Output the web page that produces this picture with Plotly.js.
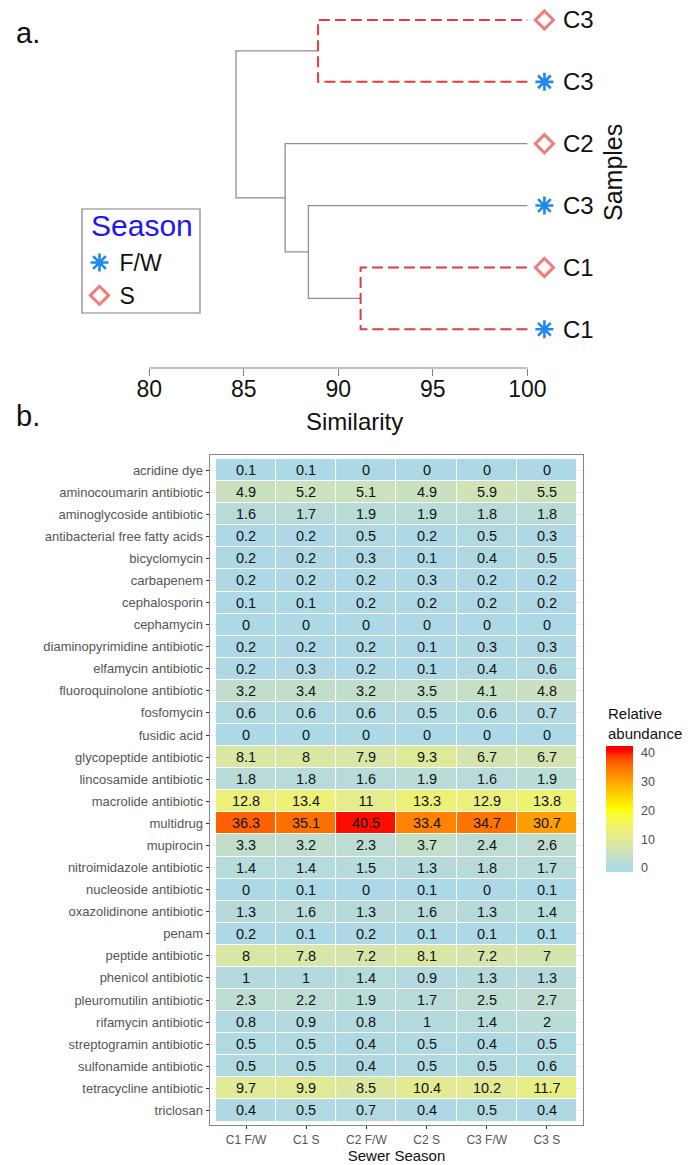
<!DOCTYPE html>
<html>
<head>
<meta charset="utf-8">
<script src="https://cdn.plot.ly/plotly-3.0.1.min.js"></script>
<style>html,body{margin:0;padding:0;background:#fff;}#chart{width:688px;height:1165px;}</style>
</head>
<body>
<div id="chart"></div>
<script>
// ---------- Panel a: dendrogram data ----------
// leaves from bottom (1) to top (6)
const leafLabels  = ['C1', 'C1', 'C3', 'C2', 'C3', 'C3'];
const leafSeasons = ['F/W', 'S', 'F/W', 'S', 'F/W', 'S'];
// hclust-style merges: negative = leaf index, positive = earlier merge
const mergeLeft    = [-1, -3, -4, -5, 4];
const mergeRight   = [-2,  1,  2, -6, 3];
const mergeHeight  = [91.18, 88.42, 87.19, 88.93, 84.59];
const mergeHighlight = [true, false, false, true, false];
const leafSimilarity = 100;
const similarityTicks = [80, 85, 90, 95, 100];

// ---------- Panel b: heatmap data ----------
const resistanceClasses = [
  'acridine dye', 'aminocoumarin antibiotic', 'aminoglycoside antibiotic',
  'antibacterial free fatty acids', 'bicyclomycin', 'carbapenem', 'cephalosporin',
  'cephamycin', 'diaminopyrimidine antibiotic', 'elfamycin antibiotic',
  'fluoroquinolone antibiotic', 'fosfomycin', 'fusidic acid', 'glycopeptide antibiotic',
  'lincosamide antibiotic', 'macrolide antibiotic', 'multidrug', 'mupirocin',
  'nitroimidazole antibiotic', 'nucleoside antibiotic', 'oxazolidinone antibiotic',
  'penam', 'peptide antibiotic', 'phenicol antibiotic', 'pleuromutilin antibiotic',
  'rifamycin antibiotic', 'streptogramin antibiotic', 'sulfonamide antibiotic',
  'tetracycline antibiotic', 'triclosan'
];
const sewerSeasons = ['C1 F/W', 'C1 S', 'C2 F/W', 'C2 S', 'C3 F/W', 'C3 S'];
const c1fw = [0.1,4.9,1.6,0.2,0.2,0.2,0.1,0,0.2,0.2,3.2,0.6,0,8.1,1.8,12.8,36.3,3.3,1.4,0,1.3,0.2,8,1,2.3,0.8,0.5,0.5,9.7,0.4];
const c1s  = [0.1,5.2,1.7,0.2,0.2,0.2,0.1,0,0.2,0.3,3.4,0.6,0,8,1.8,13.4,35.1,3.2,1.4,0.1,1.6,0.1,7.8,1,2.2,0.9,0.5,0.5,9.9,0.5];
const c2fw = [0,5.1,1.9,0.5,0.3,0.2,0.2,0,0.2,0.2,3.2,0.6,0,7.9,1.6,11,40.5,2.3,1.5,0,1.3,0.2,7.2,1.4,1.9,0.8,0.4,0.4,8.5,0.7];
const c2s  = [0,4.9,1.9,0.2,0.1,0.3,0.2,0,0.1,0.1,3.5,0.5,0,9.3,1.9,13.3,33.4,3.7,1.3,0.1,1.6,0.1,8.1,0.9,1.7,1,0.5,0.5,10.4,0.4];
const c3fw = [0,5.9,1.8,0.5,0.4,0.2,0.2,0,0.3,0.4,4.1,0.6,0,6.7,1.6,12.9,34.7,2.4,1.8,0,1.3,0.1,7.2,1.3,2.5,1.4,0.4,0.5,10.2,0.5];
const c3s  = [0,5.5,1.8,0.3,0.5,0.2,0.2,0,0.3,0.6,4.8,0.7,0,6.7,1.9,13.8,30.7,2.6,1.7,0.1,1.4,0.1,7,1.3,2.7,2,0.5,0.6,11.7,0.4];
const colorbarTicks = [0, 10, 20, 30, 40];

// ---------- styling ----------
const W = 688, H = 1165;
const px = v => v / W;           // horizontal pixel -> paper
const py = v => 1 - v / H;       // vertical pixel -> paper
const GRAY = '#8f8f8f', RED = '#e43b3b', BLUE = '#1e88f0', PINK = '#f27c7c';
const FONT = 'Liberation Sans, Arial, sans-serif';
const MARKER_PAD = 0.9;         // leaf symbol drawn just past the leaf tip
const X_VIEW_MAX = 101.724;     // view extends past 100 so the leaf symbols fit

// ---------- build dendrogram segments ----------
const nodeX = {}, nodeY = {};
function child(id) {
  if (id < 0) return {x: leafSimilarity, y: -id};
  return {x: nodeX[id], y: nodeY[id]};
}
const grayX = [], grayY = [], redX = [], redY = [];
mergeHeight.forEach((h, i) => {
  const a = child(mergeLeft[i]), b = child(mergeRight[i]);
  const id = i + 1;
  nodeX[id] = h; nodeY[id] = (a.y + b.y) / 2;
  const X = mergeHighlight[i] ? redX : grayX, Y = mergeHighlight[i] ? redY : grayY;
  X.push(a.x, h, h, b.x, null); Y.push(a.y, a.y, b.y, b.y, null);
});

const leafY = leafLabels.map((_, i) => i + 1);
const fwIdx = leafY.filter((_, i) => leafSeasons[i] === 'F/W');
const sIdx  = leafY.filter((_, i) => leafSeasons[i] === 'S');

const traces = [
  {type: 'scatter', mode: 'lines', x: grayX, y: grayY, xaxis: 'x', yaxis: 'y',
   line: {color: GRAY, width: 1.3}, showlegend: false, hoverinfo: 'skip', cliponaxis: false},
  {type: 'scatter', mode: 'lines', x: redX, y: redY, xaxis: 'x', yaxis: 'y',
   line: {color: RED, width: 2, dash: '11px,5px'}, showlegend: false, hoverinfo: 'skip', cliponaxis: false},
  {type: 'scatter', mode: 'markers', name: 'F/W', x: fwIdx.map(() => leafSimilarity + MARKER_PAD), y: fwIdx,
   xaxis: 'x', yaxis: 'y', cliponaxis: false,
   marker: {symbol: 'asterisk-open', size: 15, color: BLUE, line: {color: BLUE, width: 2.6}}},
  {type: 'scatter', mode: 'markers', name: 'S', x: sIdx.map(() => leafSimilarity + MARKER_PAD), y: sIdx,
   xaxis: 'x', yaxis: 'y', cliponaxis: false,
   marker: {symbol: 'diamond-open', size: 14, color: PINK, line: {color: PINK, width: 3}}}
];

// ---------- Lab-interpolated colour scale (lightblue -> yellow -> red) ----------
function hex2rgb(h){ h=h.replace('#',''); return [0,2,4].map(i=>parseInt(h.substr(i,2),16)); }
function s2l(c){ c/=255; return c<=0.04045 ? c/12.92 : Math.pow((c+0.055)/1.055,2.4); }
function l2s(c){ c = c<=0.0031308 ? 12.92*c : 1.055*Math.pow(c,1/2.4)-0.055; return Math.round(Math.max(0,Math.min(1,c))*255); }
const XN=0.95047, YN=1, ZN=1.08883;
function rgb2lab(rgb){
  const [R,G,B]=rgb.map(s2l);
  const X=(0.4124*R+0.3576*G+0.1805*B)/XN, Y=(0.2126*R+0.7152*G+0.0722*B)/YN, Z=(0.0193*R+0.1192*G+0.9505*B)/ZN;
  const f=t=>t>0.008856?Math.cbrt(t):7.787*t+16/116;
  return [116*f(Y)-16, 500*(f(X)-f(Y)), 200*(f(Y)-f(Z))];
}
function lab2rgb(lab){
  const fy=(lab[0]+16)/116, fx=fy+lab[1]/500, fz=fy-lab[2]/200;
  const fi=t=>t*t*t>0.008856?t*t*t:(t-16/116)/7.787;
  const X=XN*fi(fx), Y=YN*fi(fy), Z=ZN*fi(fz);
  const R=3.2406*X-1.5372*Y-0.4986*Z, G=-0.9689*X+1.8758*Y+0.0415*Z, B=0.0557*X-0.2040*Y+1.0570*Z;
  return [l2s(R),l2s(G),l2s(B)];
}
const gradColors = ['#ADD8E6', '#FFFF00', '#FF0000'].map(c => rgb2lab(hex2rgb(c)));
const allVals = [].concat(c1fw, c1s, c2fw, c2s, c3fw, c3s);
const zMin = Math.min(...allVals), zMax = Math.max(...allVals);
function colorAt(v){
  let t = (Math.max(zMin, Math.min(zMax, v)) - zMin) / (zMax - zMin);
  const seg = Math.min(gradColors.length - 2, Math.floor(t * (gradColors.length - 1)));
  const u = t * (gradColors.length - 1) - seg;
  const a = gradColors[seg], b = gradColors[seg + 1];
  const rgb = lab2rgb(a.map((x, k) => x + (b[k] - x) * u));
  return 'rgb(' + rgb.join(',') + ')';
}
// the guide bar extends slightly past the data limits (as in ggplot's bar)
const barMin = zMin - 1.4, barMax = zMax + 1.93;
const colorscale = [];
for (let i = 0; i <= 60; i++) {
  const t = i / 60;
  colorscale.push([t, colorAt(barMin + t * (barMax - barMin))]);
}

const columns = [c1fw, c1s, c2fw, c2s, c3fw, c3s];
const z = resistanceClasses.map((_, r) => columns.map(col => col[r]));

traces.push({
  type: 'heatmap', x: sewerSeasons, y: resistanceClasses, z: z,
  xaxis: 'x2', yaxis: 'y2', zmin: barMin, zmax: barMax, colorscale: colorscale,
  xgap: 1, ygap: 1, showlegend: false, hoverinfo: 'skip',
  texttemplate: '%{z}', textfont: {family: FONT, size: 14.5, color: '#111111'},
  colorbar: {
    x: px(606), xanchor: 'left', y: py(746), yanchor: 'top',
    len: 126 / H, lenmode: 'fraction', thickness: 27, thicknessmode: 'pixels',
    outlinewidth: 0, xpad: 0, ypad: 0,
    tickvals: colorbarTicks, ticks: 'outside', ticklen: 6, tickcolor: 'rgba(0,0,0,0)',
    tickfont: {family: FONT, size: 12.5, color: '#4d4d4d'}
  }
});

const layout = {
  width: W, height: H, margin: {l: 0, r: 0, t: 0, b: 0},
  paper_bgcolor: '#ffffff', plot_bgcolor: '#ffffff',
  font: {family: FONT, color: '#111111'},
  showlegend: true,
  legend: {
    x: px(79.5), xanchor: 'left', y: py(241), yanchor: 'top',
    borderwidth: 0, bgcolor: 'rgba(0,0,0,0)',
    font: {family: FONT, size: 23, color: '#111111'},
    tracegroupgap: 0, itemsizing: 'trace'
  },
  xaxis: {
    domain: [px(149.2), px(560)], range: [80, X_VIEW_MAX], anchor: 'y',
    tickvals: similarityTicks, ticks: 'outside', ticklen: 7, tickcolor: '#808080', tickwidth: 1,
    showline: false, showgrid: false, zeroline: false,
    ticklabelstandoff: -7,
    tickfont: {family: FONT, size: 23, color: '#111111'},
    title: {text: 'Similarity', font: {family: FONT, size: 24, color: '#111111'}, standoff: 12},
    automargin: false, fixedrange: true
  },
  yaxis: {
    domain: [py(368), 1], range: [0.374, 6.323], anchor: 'x', side: 'right',
    tickvals: leafY, ticktext: leafLabels, ticks: '', showline: false, showgrid: false, zeroline: false,
    ticklabelstandoff: 2,
    tickfont: {family: FONT, size: 24, color: '#111111'},
    automargin: false, fixedrange: true
  },
  xaxis2: {
    domain: [px(210), px(583)], anchor: 'y2', type: 'category', range: [-0.6, 5.6],
    ticks: 'outside', ticklen: 3, tickcolor: '#333333', tickwidth: 1,
    showline: true, mirror: true, linecolor: '#858585', linewidth: 1.4,
    showgrid: true, gridcolor: '#ededed', zeroline: false,
    tickfont: {family: FONT, size: 12, color: '#555555'},
    title: {text: 'Sewer Season', font: {family: FONT, size: 15, color: '#111111'}, standoff: 4},
    automargin: false, fixedrange: true
  },
  yaxis2: {
    domain: [py(1125), py(455)], anchor: 'x2', type: 'category',
    categoryorder: 'array', categoryarray: resistanceClasses, range: [29.66, -0.68],
    ticks: 'outside', ticklen: 3, tickcolor: '#333333', tickwidth: 1,
    showline: true, mirror: true, linecolor: '#858585', linewidth: 1.4,
    showgrid: true, gridcolor: '#ededed', zeroline: false,
    tickfont: {family: FONT, size: 13, color: '#555555'},
    automargin: false, fixedrange: true
  },
  shapes: [
    // base-graphics style axis line spanning only the tick range
    {type: 'line', xref: 'x', yref: 'y domain',
     x0: similarityTicks[0], x1: similarityTicks[similarityTicks.length - 1], y0: 0, y1: 0,
     line: {color: '#808080', width: 1}},
    // legend frame
    {type: 'rect', xref: 'paper', yref: 'paper', x0: px(82), x1: px(200), y0: py(313), y1: py(209),
     line: {color: '#808080', width: 1.2}, fillcolor: 'rgba(0,0,0,0)'}
  ],
  annotations: [
    {text: 'a.', xref: 'paper', yref: 'paper', x: px(14), y: py(33), xanchor: 'left', yanchor: 'middle',
     showarrow: false, font: {family: FONT, size: 29, color: '#111111'}},
    {text: 'b.', xref: 'paper', yref: 'paper', x: px(14), y: py(416), xanchor: 'left', yanchor: 'middle',
     showarrow: false, font: {family: FONT, size: 29, color: '#111111'}},
    {text: 'Season', xref: 'paper', yref: 'paper', x: px(89), y: py(226), xanchor: 'left', yanchor: 'middle',
     showarrow: false, font: {family: FONT, size: 30, color: '#1a1aee'}},
    {text: 'Samples', xref: 'paper', yref: 'paper', x: px(613), y: py(173), xanchor: 'center', yanchor: 'middle',
     textangle: -90, showarrow: false, font: {family: FONT, size: 25, color: '#111111'}},
    {text: 'Relative<br>abundance', xref: 'paper', yref: 'paper', x: px(606), y: py(723), xanchor: 'left', yanchor: 'middle',
     align: 'left', showarrow: false, font: {family: FONT, size: 15, color: '#111111'}}
  ]
};

Plotly.newPlot('chart', traces, layout, {displayModeBar: false, staticPlot: true});
</script>
</body>
</html>
